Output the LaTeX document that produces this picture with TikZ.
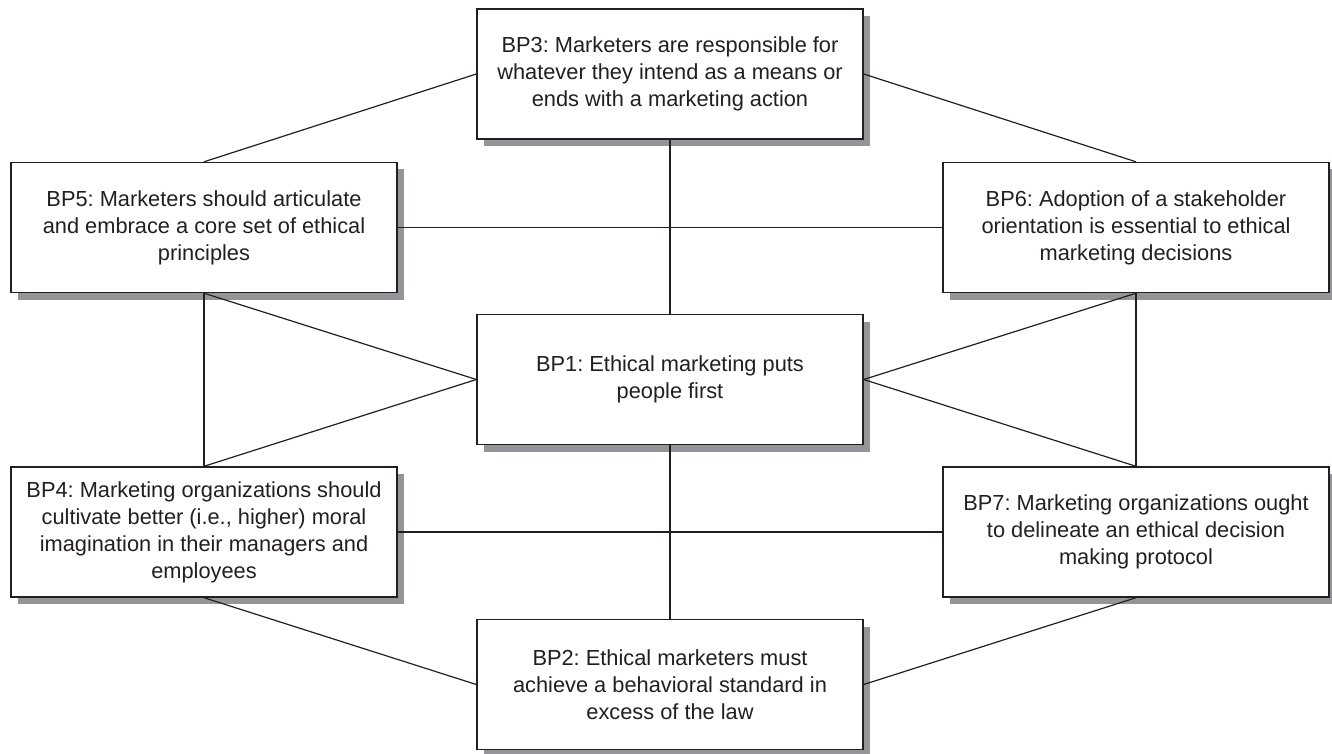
\documentclass[tikz,border=0pt]{standalone}
\usepackage{fontspec}
\setmainfont{Liberation Sans}
\usetikzlibrary{shadows}
\definecolor{ink}{HTML}{231F20}
\definecolor{shade}{HTML}{939598}
\frenchspacing
\begin{document}
\begin{tikzpicture}[x=1pt,y=-1pt,
  bp/.style={draw=ink, line width=1.4pt, fill=white, minimum width=386pt, minimum height=130pt,
    inner sep=0pt, align=center, font=\fontsize{21.8}{27}\selectfont, text=ink,
    drop shadow={shadow xshift=7pt, shadow yshift=-7pt, fill=shade, opacity=1}},
  link/.style={draw=ink, line width=1.2pt}]
\useasboundingbox (0,0) rectangle (1332,754);
\node[bp] (bp3) at (670,74) {BP3: Marketers are responsible for\\whatever they intend as a means or\\ends with a marketing action};
\node[bp] (bp5) at (204,227.5) {BP5: Marketers should articulate\\and embrace a core set of ethical\\principles};
\node[bp] (bp6) at (1136,227.5) {BP6: Adoption of a stakeholder\\orientation is essential to ethical\\marketing decisions};
\node[bp] (bp1) at (670,379.5) {BP1: Ethical marketing puts\\people first};
\node[bp] (bp4) at (204,532) {BP4: Marketing organizations should\\cultivate better (i.e., higher) moral\\imagination in their managers and\\employees};
\node[bp] (bp7) at (1136,532) {BP7: Marketing organizations ought\\to delineate an ethical decision\\making protocol};
\node[bp] (bp2) at (670,684.5) {BP2: Ethical marketers must\\achieve a behavioral standard in\\excess of the law};
\draw[link] (bp3.west) -- (bp5.north);
\draw[link] (bp3.east) -- (bp6.north);
\draw[link] (bp3.south) -- (bp1.north);
\draw[link] (bp5.east) -- (bp6.west);
\draw[link] (bp5.south) -- (bp4.north);
\draw[link] (bp5.south) -- (bp1.west);
\draw[link] (bp4.north) -- (bp1.west);
\draw[link] (bp6.south) -- (bp7.north);
\draw[link] (bp6.south) -- (bp1.east);
\draw[link] (bp7.north) -- (bp1.east);
\draw[link] (bp4.east) -- (bp7.west);
\draw[link] (bp1.south) -- (bp2.north);
\draw[link] (bp4.south) -- (bp2.west);
\draw[link] (bp7.south) -- (bp2.east);
\end{tikzpicture}
\end{document}
